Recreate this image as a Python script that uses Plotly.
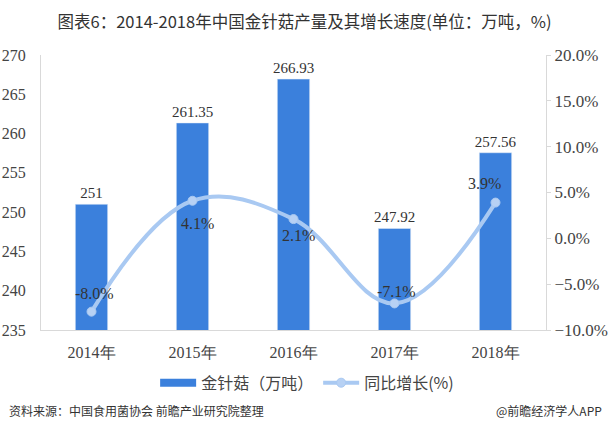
import plotly.graph_objects as go

years = ["2014年", "2015年", "2016年", "2017年", "2018年"]
output = [251, 261.35, 266.93, 247.92, 257.56]
output_labels = ["251", "261.35", "266.93", "247.92", "257.56"]
growth = [-8.0, 4.1, 2.1, -7.1, 3.9]
growth_labels = ["-8.0%", "4.1%", "2.1%", "-7.1%", "3.9%"]
label_yshift = [18, -23, -16, 12, 19]
label_xshift = [3, 5, 5, 2, -11]

serif = "Liberation Serif, Times New Roman, serif"
sans = "Noto Sans CJK SC, Microsoft YaHei, sans-serif"
bar_color = "#3b80dc"
line_color = "#a9c9f2"

fig = go.Figure()
fig.add_trace(go.Bar(
    x=years, y=output, name="金针菇（万吨）", showlegend=False,
    marker=dict(color=bar_color),
    text=output_labels, textposition="outside", constraintext="none",
    textfont=dict(family=serif, size=15, color="#333"),
    cliponaxis=False, width=0.32,
))
# legend entry drawn as a wide flat swatch
fig.add_trace(go.Scatter(
    x=[None], y=[None], name="金针菇（万吨）", mode="lines",
    line=dict(color=bar_color, width=8),
))
fig.add_trace(go.Scatter(
    x=years, y=growth, name="同比增长(%)", yaxis="y2",
    mode="lines+markers",
    line=dict(color=line_color, width=4, shape="spline", smoothing=1.1),
    marker=dict(size=9, color="#b7d1f4", line=dict(color=line_color, width=1)),
))

fig.update_layout(
    width=609, height=436,
    margin=dict(l=41, r=63, t=55, b=106, autoexpand=False),
    paper_bgcolor="white", plot_bgcolor="white",
    title=dict(text="图表6：2014-2018年中国金针菇产量及其增长速度(单位：万吨，%)",
               x=0.5, xanchor="center", y=0.95, yanchor="middle",
               font=dict(family=sans, size=16.5, color="#333")),
    showlegend=True,
    legend=dict(orientation="h", x=0.527, xanchor="center",
                yref="container", y=0.122, yanchor="middle",
                font=dict(family=sans, size=16, color="#444"),
                traceorder="normal", itemwidth=36),
    xaxis=dict(showline=True, linecolor="#d9d9d9", linewidth=1, ticks="",
               tickfont=dict(family=serif, size=16, color="#444"),
               showgrid=False, ticklabelstandoff=8),
    yaxis=dict(range=[235, 270], dtick=5, showline=True, linecolor="#d9d9d9",
               showgrid=False, ticks="", zeroline=False,
               tickfont=dict(family=serif, size=16, color="#444"),
               ticklabelstandoff=11),
    yaxis2=dict(range=[-10, 20], dtick=5, overlaying="y", side="right",
                showline=True, linecolor="#d9d9d9", showgrid=False, zeroline=False,
                ticks="outside", ticklen=4, tickcolor="#d9d9d9",
                tickformat=".1f", ticksuffix="%",
                tickfont=dict(family=serif, size=17, color="#444")),
)

for x, y, t, ys, xs in zip(years, growth, growth_labels, label_yshift, label_xshift):
    fig.add_annotation(x=x, y=y, xref="x", yref="y2", text=t, showarrow=False,
                       yshift=ys, xshift=xs,
                       font=dict(family=serif, size=16, color="#333"))

fig.add_annotation(x=-0.067, xref="paper", xanchor="left", y=-0.2945, yref="paper", yanchor="middle",
                   text="资料来源：中国食用菌协会 前瞻产业研究院整理", showarrow=False,
                   font=dict(family=sans, size=12, color="#333"))
fig.add_annotation(x=1.115, xref="paper", xanchor="right", y=-0.2945, yref="paper", yanchor="middle",
                   text="@前瞻经济学人APP", showarrow=False,
                   font=dict(family=sans, size=12, color="#333"))

fig.write_html("out.html", config={"displayModeBar": False},
               post_script="document.body.style.margin='0px';")
